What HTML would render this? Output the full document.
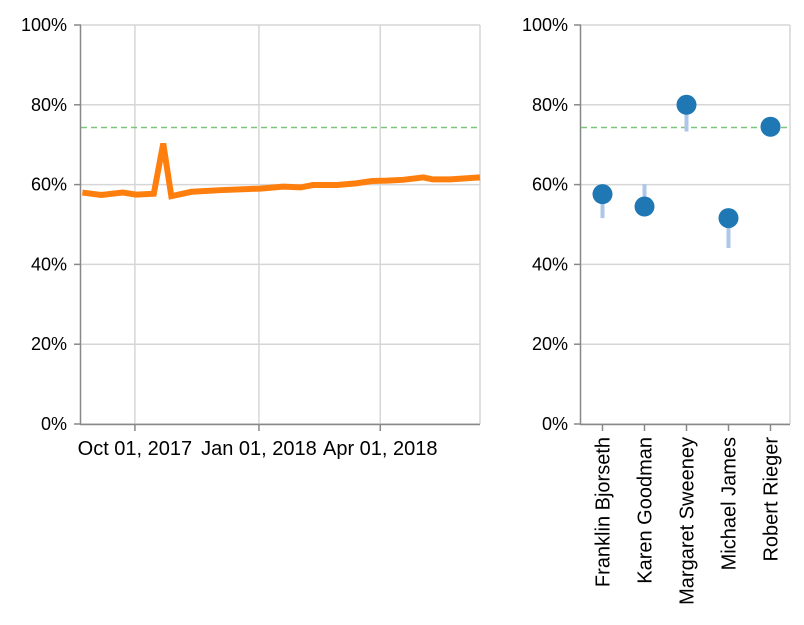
<!DOCTYPE html>
<html><head><meta charset="utf-8"><style>
body{margin:0;background:#fff;font-family:"Liberation Sans",sans-serif}
svg text{font-family:"Liberation Sans",sans-serif;fill:#000}
</style></head><body>
<svg id="c" width="804" height="620"></svg>
<script>
const lineDates=["2017-08-23","2017-09-06","2017-09-22","2017-10-02","2017-10-15","2017-10-22","2017-10-28","2017-11-12","2017-12-03","2018-01-02","2018-01-19","2018-02-01","2018-02-10","2018-02-28","2018-03-14","2018-03-26","2018-04-06","2018-04-18","2018-05-03","2018-05-10","2018-05-23","2018-06-14"];
const lineValues=[58.0,57.4,58.0,57.5,57.7,70.3,57.1,58.2,58.6,59.0,59.5,59.3,59.9,59.9,60.3,60.9,61.0,61.2,61.8,61.3,61.3,61.8];
const xTickDates=["2017-10-01","2018-01-01","2018-04-01"];
const xTickLabels=["Oct 01, 2017","Jan 01, 2018","Apr 01, 2018"];
const yTicks=[0,20,40,60,80,100];
const people=["Franklin Bjorseth","Karen Goodman","Margaret Sweeney","Michael James","Robert Rieger"];
const personValues=[57.6,54.5,80.0,51.6,74.5];
const personPrior=[51.6,60.1,73.3,44.1,74.5];
const target=74.3;

const NS="http://www.w3.org/2000/svg",svg=document.getElementById('c');
function mk(t,a,p){const e=document.createElementNS(NS,t);for(const k in a)e.setAttribute(k,a[k]);(p||svg).appendChild(e);return e;}
const T=d=>new Date(d+"T00:00:00Z").getTime();
const x0=T("2017-08-22"),x1=T("2018-06-14");
const xL=v=>81+(T(v)-x0)/(x1-x0)*399;
const y=v=>424-v*3.99;
const band=42,xP=i=>581.5+band*(i+0.5);
const GRID='#d6d6d6';

yTicks.forEach(t=>{const g=mk('line',{x1:81,x2:480,y1:y(t),y2:y(t),stroke:GRID,'stroke-width':1.5});

const l=mk('text',{x:67,y:y(t)+6,'text-anchor':'end','font-size':18});l.textContent=t+'%';

mk('line',{x1:74,x2:81,y1:y(t),y2:y(t),stroke:'#888','stroke-width':1.5});});
xTickDates.forEach((d,i)=>{const g=mk('line',{x1:xL(d),x2:xL(d),y1:25,y2:424,stroke:GRID,'stroke-width':1.5});

mk('line',{x1:xL(d),x2:xL(d),y1:424,y2:431,stroke:'#888','stroke-width':1.5});
const l=mk('text',{x:xL(d),y:455,'text-anchor':'middle','font-size':20});l.textContent=xTickLabels[i];
});
mk('line',{x1:480,x2:480,y1:25,y2:424,stroke:GRID,'stroke-width':1.5});
const ax=mk('line',{x1:80.5,x2:80.5,y1:25,y2:424,stroke:'#888','stroke-width':1.5});

const bx=mk('line',{x1:80,x2:480,y1:424.5,y2:424.5,stroke:'#888','stroke-width':1.5});

const tl=mk('line',{x1:81,x2:480,y1:y(target),y2:y(target),stroke:'#7cc57c','stroke-dasharray':'6,4','stroke-width':1.5});

const ln=mk('path',{d:lineDates.map((d,i)=>(i?'L':'M')+xL(d)+','+y(lineValues[i])).join(''),fill:'none',stroke:'#ff7f0e','stroke-width':6});


yTicks.forEach(t=>{const g=mk('line',{x1:581,x2:790,y1:y(t),y2:y(t),stroke:GRID,'stroke-width':1.5});

const l=mk('text',{x:568,y:y(t)+6,'text-anchor':'end','font-size':18});l.textContent=t+'%';

mk('line',{x1:574,x2:581,y1:y(t),y2:y(t),stroke:'#888','stroke-width':1.5});});
mk('line',{x1:790,x2:790,y1:25,y2:424,stroke:GRID,'stroke-width':1.5});
const ax2=mk('line',{x1:580.5,x2:580.5,y1:25,y2:424,stroke:'#888','stroke-width':1.5});

const bx2=mk('line',{x1:580,x2:790,y1:424.5,y2:424.5,stroke:'#888','stroke-width':1.5});

people.forEach((p,i)=>{mk('line',{x1:xP(i),x2:xP(i),y1:424,y2:431,stroke:'#888','stroke-width':1.5});
const l=mk('text',{x:0,y:0,'text-anchor':'end','font-size':20,transform:`translate(${xP(i)+7},437) rotate(-90)`});l.textContent=p;
});
const tl2=mk('line',{x1:581,x2:790,y1:y(target),y2:y(target),stroke:'#7cc57c','stroke-dasharray':'6,4','stroke-width':1.5});

people.forEach((p,i)=>{const r=mk('line',{x1:xP(i),x2:xP(i),y1:y(personValues[i]),y2:y(personPrior[i]),stroke:'#aec7e8','stroke-width':4});

const c=mk('circle',{cx:xP(i),cy:y(personValues[i]),r:10,fill:'#1f77b4'});
});
</script>
</body></html>
